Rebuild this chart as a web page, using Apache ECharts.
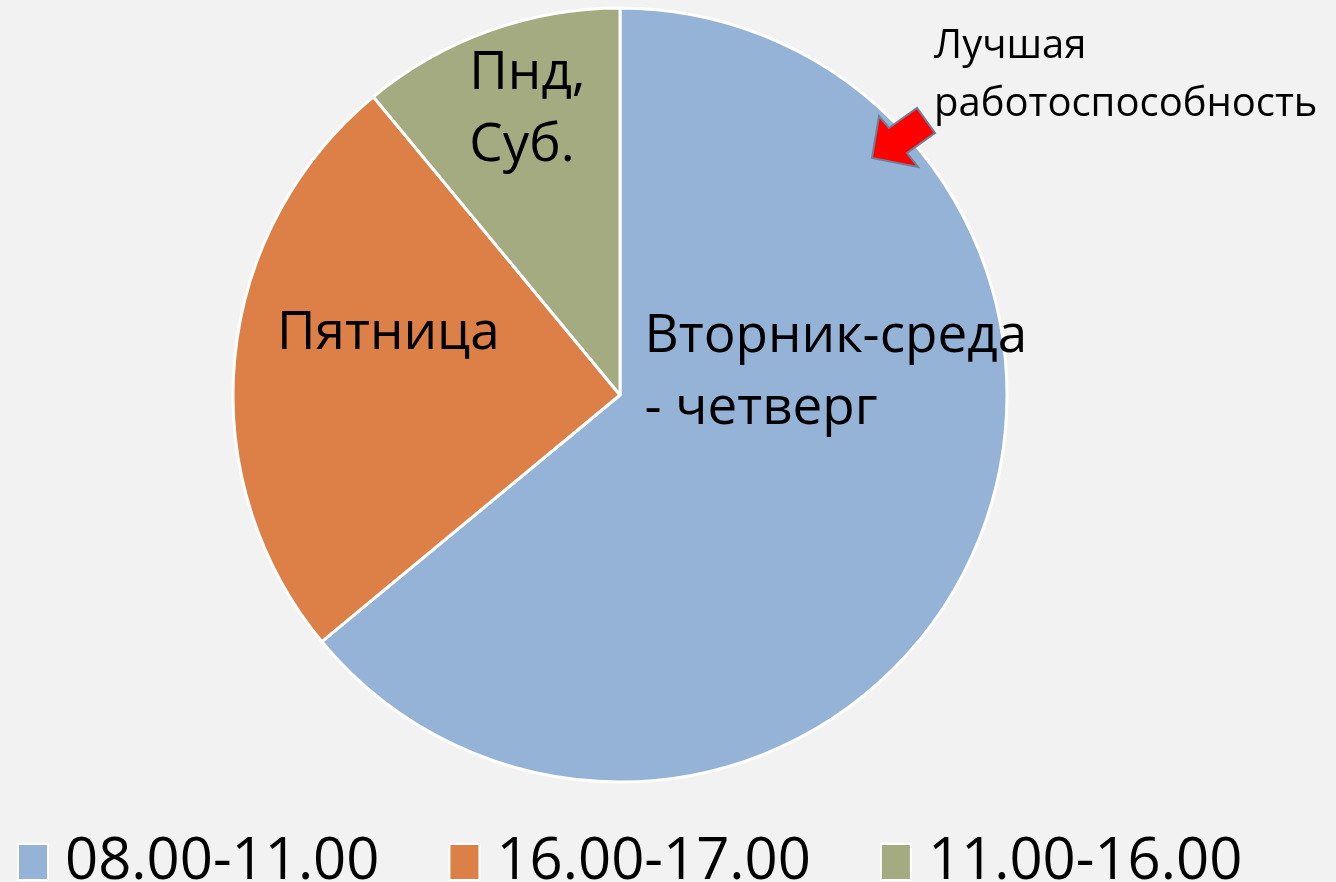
<!DOCTYPE html>
<html>
<head>
<meta charset="utf-8">
<script src="https://cdn.jsdelivr.net/npm/echarts@6/dist/echarts.min.js"></script>
<style>
  html, body { margin: 0; padding: 0; background: #f2f2f2; }
  #chart { width: 1336px; height: 882px; }
</style>
</head>
<body>
<div id="chart"></div>
<script>
var periods = ['08.00-11.00', '16.00-17.00', '11.00-16.00'];
var shares = [64, 25, 11];
var days = [['Вторник-среда', '- четверг'], ['Пятница'], ['Пнд,', 'Суб.']];
var colors = ['#95b3d7', '#dd8047', '#a5ab81'];
// shift of the in-slice labels from the default "inside" spot
var labelOffsets = [[38, -106], [-36, -43], [-26, -100]];

var chart = echarts.init(document.getElementById('chart'));

var seriesData = periods.map(function (p, i) {
  return {
    name: p,
    value: shares[i],
    itemStyle: { color: colors[i] },
    label: {
      formatter: days[i].map(function (s) { return '{l|' + s + '}'; }).join('\n'),
      offset: labelOffsets[i]
    }
  };
});

var option = {
  backgroundColor: '#f2f2f2',
  animation: false,
  legend: {
    data: periods,
    left: 12,
    top: 828,
    icon: 'rect',
    itemWidth: 30,
    itemHeight: 36,
    itemGap: 69,
    itemStyle: { borderColor: '#ffffff', borderWidth: 2 },
    textStyle: { fontFamily: 'Open Sans', fontSize: 58, color: '#000', padding: [0, 0, 0, 12] }
  },
  series: [{
    type: 'pie',
    center: [620, 395],
    radius: [0, 387],
    startAngle: 90,
    clockwise: true,
    itemStyle: { borderColor: '#ffffff', borderWidth: 3 },
    label: {
      show: true,
      position: 'inside',
      color: '#000',
      rich: {
        l: {
          align: 'left',
          fontFamily: 'Open Sans',
          fontSize: 53,
          lineHeight: 72,
          color: '#000'
        }
      }
    },
    labelLine: { show: false },
    emphasis: { disabled: true },
    data: seriesData
  }],
  graphic: [
    {
      type: 'polygon',
      z: 100,
      shape: {
        points: [[872, 158], [879, 116], [889, 128], [917, 108], [935, 133], [907, 153], [918, 167]]
      },
      style: { fill: '#ff0000', stroke: '#6a8299', lineWidth: 2 }
    },
    {
      type: 'text',
      z: 100,
      left: 934,
      top: 18,
      style: {
        text: 'Лучшая\nработоспособность',
        fontFamily: 'Open Sans',
        fontSize: 40,
        lineHeight: 58,
        fill: '#000'
      }
    }
  ]
};

chart.setOption(option);
</script>
</body>
</html>
